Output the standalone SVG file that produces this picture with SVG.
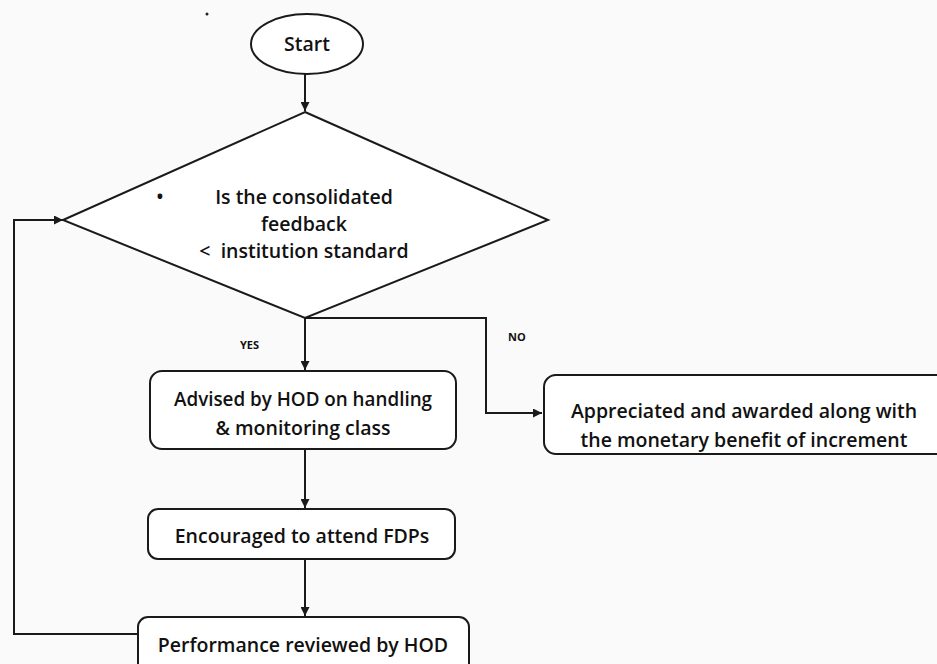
<svg xmlns="http://www.w3.org/2000/svg" width="937" height="664" viewBox="0 0 937 664">
<style>
.shape{fill:#fff;stroke:#1a1a1a;stroke-width:2}
.edge{fill:none;stroke:#1a1a1a;stroke-width:2}
.t{font-family:"Open Sans","Noto Sans","Liberation Sans",sans-serif;font-size:19.5px;fill:#111;text-anchor:middle;font-weight:600}
.lbl{font-family:"Open Sans","Liberation Sans",sans-serif;font-size:11px;font-weight:700;fill:#111}
</style>
<defs>
<marker id="arr" viewBox="0 0 10 10" refX="10" refY="5" markerWidth="9" markerHeight="9" markerUnits="userSpaceOnUse" orient="auto">
<path d="M0,0 L10,5 L0,10 z" fill="#1a1a1a"/>
</marker>
</defs>
<rect width="937" height="664" fill="#fafafa"/>
<circle cx="207" cy="14" r="1.5" fill="#222"/>
<g id="connectors">
<path class="edge" d="M305,74 V111" marker-end="url(#arr)"/>
<path class="edge" d="M305,318 V370" marker-end="url(#arr)"/>
<path class="edge" d="M305,318 H486 V413 H542" marker-end="url(#arr)"/>
<path class="edge" d="M305,450 V508" marker-end="url(#arr)"/>
<path class="edge" d="M305,559 V616" marker-end="url(#arr)"/>
<path class="edge" d="M138,634 H14 V220 H63" marker-end="url(#arr)"/>
<text class="lbl" x="240" y="349">YES</text>
<text class="lbl" x="508" y="341">NO</text>
</g>
<g id="start">
<ellipse class="shape" cx="307" cy="44" rx="56" ry="30"/>
<text class="t" x="307" y="51">Start</text>
</g>
<g id="decision">
<polygon class="shape" points="305,112 548,220 305,318 63,220"/>
<text class="t" x="160" y="204">•</text>
<text class="t" x="304" y="204">Is the consolidated</text>
<text class="t" x="304" y="231">feedback</text>
<text class="t" x="304" y="258">&lt;&#160; institution standard</text>
</g>
<g id="advised">
<rect class="shape" x="150" y="371" width="306" height="78" rx="12"/>
<text class="t" x="303" y="406" textLength="258" lengthAdjust="spacingAndGlyphs">Advised by HOD on handling</text>
<text class="t" x="303" y="435">&amp; monitoring class</text>
</g>
<g id="appreciated">
<rect class="shape" x="544" y="375" width="405" height="79" rx="12"/>
<text class="t" x="744" y="418">Appreciated and awarded along with</text>
<text class="t" x="744" y="447">the monetary benefit of increment</text>
</g>
<g id="encouraged">
<rect class="shape" x="148" y="509" width="307" height="50" rx="10"/>
<text class="t" x="302" y="543">Encouraged to attend FDPs</text>
</g>
<g id="performance">
<rect class="shape" x="138" y="617" width="331" height="60" rx="10"/>
<text class="t" x="303" y="652">Performance reviewed by HOD</text>
</g>
</svg>
